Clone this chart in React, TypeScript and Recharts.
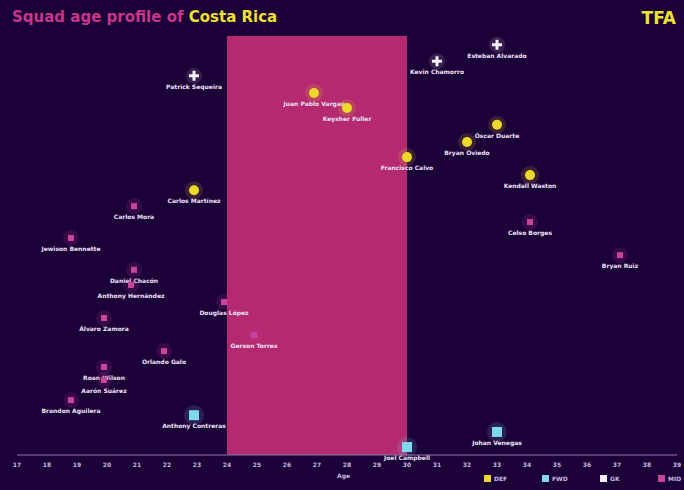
import {
  ScatterChart,
  Scatter,
  XAxis,
  YAxis,
  ReferenceArea,
} from "recharts";

// share of minutes played (%) against age
const goalkeepers = [
  { name: "Patrick Sequeira", age: 22.9, minutes: 90.5 },
  { name: "Kevin Chamorro", age: 31.0, minutes: 94.0 },
  { name: "Esteban Alvarado", age: 33.0, minutes: 97.9 },
];

const defenders = [
  { name: "Carlos Martínez", age: 22.9, minutes: 63.2 },
  { name: "Juan Pablo Vargas", age: 26.9, minutes: 86.4 },
  { name: "Keysher Fuller", age: 28.0, minutes: 82.8 },
  { name: "Francisco Calvo", age: 30.0, minutes: 71.1 },
  { name: "Bryan Oviedo", age: 32.0, minutes: 74.7 },
  { name: "Óscar Duarte", age: 33.0, minutes: 78.8 },
  { name: "Kendall Waston", age: 34.1, minutes: 66.8 },
];

const midfielders = [
  { name: "Jewison Bennette", age: 18.8, minutes: 51.8 },
  { name: "Brandon Aguilera", age: 18.8, minutes: 13.1 },
  { name: "Álvaro Zamora", age: 19.9, minutes: 32.7 },
  { name: "Roan Wilson", age: 19.9, minutes: 21.0 },
  { name: "Aarón Suárez", age: 19.9, minutes: 17.9 },
  { name: "Carlos Mora", age: 20.9, minutes: 59.4 },
  { name: "Daniel Chacón", age: 20.9, minutes: 44.2 },
  { name: "Anthony Hernández", age: 20.8, minutes: 40.6 },
  { name: "Orlando Galo", age: 21.9, minutes: 24.8 },
  { name: "Douglas López", age: 23.9, minutes: 36.5 },
  { name: "Gerson Torres", age: 24.9, minutes: 28.6 },
  { name: "Celso Borges", age: 34.1, minutes: 55.6 },
  { name: "Bryan Ruiz", age: 37.1, minutes: 47.7 },
];

const forwards = [
  { name: "Anthony Contreras", age: 22.9, minutes: 9.5 },
  { name: "Joel Campbell", age: 30.0, minutes: 1.9 },
  { name: "Johan Venegas", age: 33.0, minutes: 5.5 },
];

const ageTicks = [
  17, 18, 19, 20, 21, 22, 23, 24, 25, 26, 27, 28, 29, 30, 31, 32, 33, 34, 35,
  36, 37, 38, 39,
];

const peakAge = [24, 30];

const legendItems = [
  { label: "DEF", color: "#ecd92b" },
  { label: "FWD", color: "#7fd8ec" },
  { label: "GK", color: "#f4f0ff" },
  { label: "MID", color: "#c8459c" },
];

const bg = "#1c0038";
const font = "'DejaVu Sans', sans-serif";

function playerLabel(cx: number, cy: number, name: string) {
  return (
    <text
      x={cx}
      y={cy + 13}
      textAnchor="middle"
      fontSize={6}
      fontWeight="bold"
      fontFamily={font}
      fill="#ece4f6"
    >
      {name}
    </text>
  );
}

const gkShape = (props: any) => {
  const { cx, cy, payload } = props;
  return (
    <g>
      <circle cx={cx} cy={cy} r={8} fill="#ffffff" opacity={0.12} />
      <path
        d={`M${cx - 1.5},${cy - 5}h3v3.5h3.5v3h-3.5v3.5h-3v-3.5h-3.5v-3h3.5z`}
        fill="#f4f0ff"
      />
      {playerLabel(cx, cy, payload.name)}
    </g>
  );
};

const defShape = (props: any) => {
  const { cx, cy, payload } = props;
  return (
    <g>
      <circle cx={cx} cy={cy} r={9} fill="#ecd92b" opacity={0.15} />
      <circle cx={cx} cy={cy} r={5} fill="#ecd92b" />
      {playerLabel(cx, cy, payload.name)}
    </g>
  );
};

const midShape = (props: any) => {
  const { cx, cy, payload } = props;
  return (
    <g>
      <circle cx={cx} cy={cy} r={8} fill="#c8459c" opacity={0.15} />
      <rect x={cx - 3} y={cy - 3} width={6} height={6} fill="#c8459c" />
      {playerLabel(cx, cy, payload.name)}
    </g>
  );
};

const fwdShape = (props: any) => {
  const { cx, cy, payload } = props;
  return (
    <g>
      <circle cx={cx} cy={cy} r={10} fill="#7fd8ec" opacity={0.15} />
      <rect x={cx - 5} y={cy - 5} width={10} height={10} fill="#7fd8ec" />
      {playerLabel(cx, cy, payload.name)}
    </g>
  );
};

export default function App() {
  return (
    <div
      style={{
        position: "absolute",
        left: 0,
        top: 0,
        width: 684,
        height: 490,
        background: bg,
        fontFamily: font,
      }}
    >
      <ScatterChart
        width={684}
        height={490}
        margin={{ top: 36, right: 7, bottom: 15, left: 17 }}
      >
        <XAxis
          type="number"
          dataKey="age"
          domain={[17, 39]}
          ticks={ageTicks}
          interval={0}
          height={20}
          tickLine={false}
          axisLine={{ stroke: "#8a78b8", strokeWidth: 1 }}
          tick={{ fontSize: 6, fill: "#c8bce0", fontFamily: font, fontWeight: "bold" }}
          tickMargin={2}
        />
        <YAxis
          type="number"
          dataKey="minutes"
          domain={[0, 100]}
          hide
          width={0}
        />
        <ReferenceArea
          x1={peakAge[0]}
          x2={peakAge[1]}
          y1={0}
          y2={100}
          fill="#b4296f"
          fillOpacity={1}
          stroke="none"
        />
        <Scatter data={midfielders} shape={midShape} isAnimationActive={false} />
        <Scatter data={forwards} shape={fwdShape} isAnimationActive={false} />
        <Scatter data={defenders} shape={defShape} isAnimationActive={false} />
        <Scatter data={goalkeepers} shape={gkShape} isAnimationActive={false} />
      </ScatterChart>

      <div
        style={{
          position: "absolute",
          left: 12,
          top: 8,
          fontSize: 15,
          fontWeight: "bold",
          color: "#c8368a",
        }}
      >
        Squad age profile of <span style={{ color: "#ece230" }}>Costa Rica</span>
      </div>
      <div
        style={{
          position: "absolute",
          right: 8,
          top: 8,
          fontSize: 17,
          fontWeight: "bold",
          color: "#ece230",
        }}
      >
        TFA
      </div>
      <div
        style={{
          position: "absolute",
          left: 337,
          top: 472,
          fontSize: 6,
          fontWeight: "bold",
          color: "#c8bce0",
        }}
      >
        Age
      </div>
      {legendItems.map((item, i) => (
        <div
          key={item.label}
          style={{
            position: "absolute",
            left: 484 + i * 58,
            top: 475,
            display: "flex",
            alignItems: "center",
            fontSize: 6,
            fontWeight: "bold",
            color: "#c8bce0",
          }}
        >
          <span
            style={{
              display: "inline-block",
              width: 7,
              height: 7,
              background: item.color,
              marginRight: 3,
            }}
          />
          {item.label}
        </div>
      ))}
    </div>
  );
}
